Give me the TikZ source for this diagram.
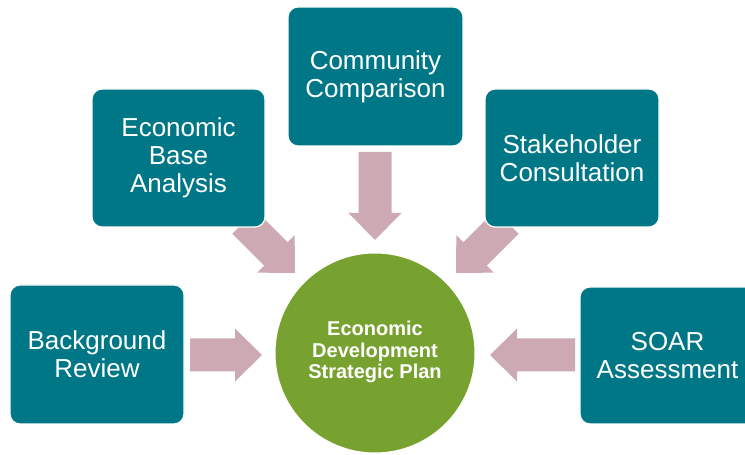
\documentclass[tikz,border=0pt]{standalone}
\usepackage{fontspec}
\setmainfont{Liberation Sans}
\definecolor{tealbox}{HTML}{007786}
\definecolor{pinkarr}{HTML}{CDA9B3}
\definecolor{greenc}{HTML}{78A22F}
\tikzset{
  pics/barrow/.style={code={
    \fill[pinkarr] (-#1,-16.5) -- (-27,-16.5) -- (-27,-26.5) -- (0,0) -- (-27,26.5) -- (-27,16.5) -- (-#1,16.5) -- cycle;}},
  tbox/.style={rectangle, rounded corners=10pt, fill=tealbox, draw=white, line width=1.2pt,
    text=white, align=center, inner sep=0pt, font=\fontsize{26}{28}\selectfont},
  hub/.style={circle, fill=greenc, draw=white, line width=1pt, text=white, align=center,
    inner sep=0pt, minimum size=200pt, font=\bfseries\fontsize{20}{21.5}\selectfont}
}
\begin{document}
\begin{tikzpicture}[x=1pt,y=1pt]
\clip (0,0) rectangle (745,455);
\fill[white] (0,0) rectangle (745,455);
% block arrows
\pic[rotate=0] at (262,100) {barrow=72};
\pic[rotate=180] at (490,100) {barrow=85};
\pic[rotate=-90] at (375,215) {barrow=88};
\pic[rotate=-45] at (295,182) {barrow=72};
\pic[rotate=-135] at (456,182) {barrow=72};
% boxes
\node[tbox, minimum width=175pt, minimum height=139pt] (comm) at (375.5,378.5) {Community\\Comparison};
\node[tbox, minimum width=173pt, minimum height=138pt] (econ) at (178.5,297) {Economic\\Base\\Analysis};
\node[tbox, minimum width=174pt, minimum height=138pt] (stake) at (572,297) {Stakeholder\\Consultation};
\node[tbox, minimum width=174pt, minimum height=139pt] (back) at (97,100.5) {Background\\Review};
\node[tbox, minimum width=175pt, minimum height=137pt] (soar) at (667.5,99.5) {SOAR\\Assessment};
\node[hub] (plan) at (375,102) {\raisebox{-3pt}{\begin{tabular}{@{}c@{}}Economic\\Development\\Strategic Plan\end{tabular}}};
\end{tikzpicture}
\end{document}
